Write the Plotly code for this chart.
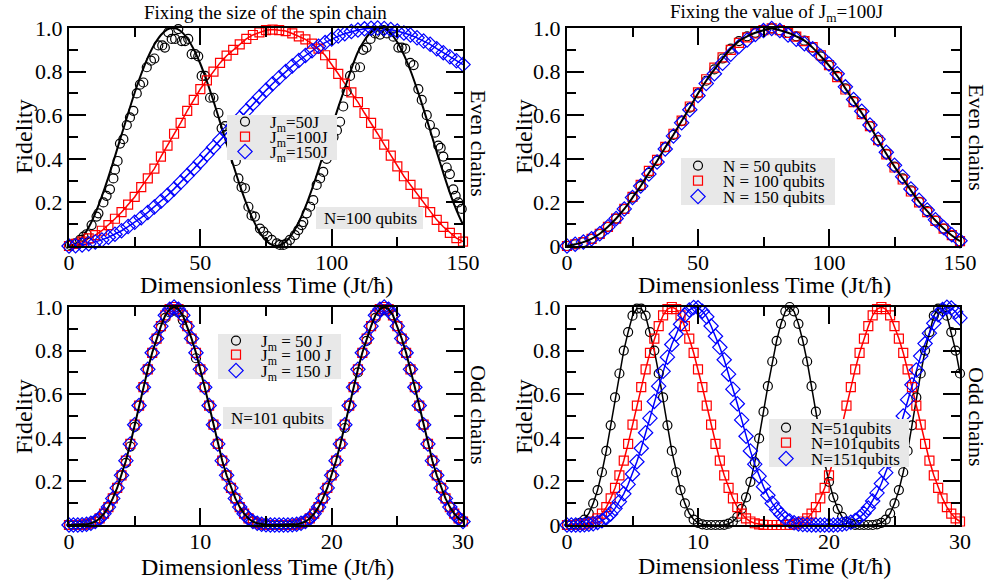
import numpy as np
import plotly.graph_objects as go

W, H = 990, 582
FONT = "Liberation Serif"
RED = "#ff0000"
BLUE = "#0000ff"

# ---------------- even chains, N = 100 qubits (top left) ----------------
t_tl = np.arange(61) * 2.5          # 0 .. 150 in steps of 2.5

# analytic curve for Jm = 50J
tl_line_j50 = [0, 0.01, 0.039, 0.086, 0.15, 0.228, 0.316, 0.411, 0.51, 0.608,
               0.703, 0.789, 0.864, 0.924, 0.968, 0.994, 1.0, 0.986, 0.953, 0.902,
               0.836, 0.755, 0.665, 0.569, 0.47, 0.373, 0.28, 0.196, 0.123, 0.065,
               0.025, 0.004, 0.002, 0.019, 0.056, 0.11, 0.179, 0.261, 0.351, 0.446,
               0.543, 0.636, 0.724, 0.812, 0.89, 0.944, 0.981, 0.998, 0.997, 0.975,
               0.935, 0.877, 0.805, 0.72, 0.628, 0.53, 0.431, 0.335, 0.244, 0.165,
               0.098]

# simulated points for Jm = 50J
tl_j50_t = [0.4, 2.3, 4.2, 5.5, 6.7, 8.6, 10.5, 11.2, 13.1, 14.3,
            15.6, 16.9, 17.5, 18.5, 19.4, 20.7, 22.0, 23.2, 24.5, 25.8,
            27.0, 28.3, 29.6, 31.2, 32.5, 34.0, 35.5, 36.5, 37.8, 39.1,
            40.4, 41.6, 42.9, 44.2, 45.4, 46.7, 48.0, 49.2, 50.5, 51.8,
            53.7, 55.0, 56.9, 58.1, 59.4, 61.3, 62.6, 63.5, 64.5, 65.7,
            67.0, 68.3, 69.5, 70.8, 72.7, 74.0, 75.5, 77.2, 79.1, 80.3,
            81.6, 82.9, 84.1, 86.0, 87.3, 88.6, 89.2, 90.5, 91.8, 93.0,
            94.3, 95.6, 96.8, 98.1, 99.4, 100.7, 102.0, 103.2, 104.4, 105.7,
            107.0, 108.9, 110.8, 112.0, 113.3, 114.8, 116.5, 118.4, 119.7, 121.0,
            123.5, 125.4, 126.7, 128.0, 129.9, 131.2, 133.0, 134.3, 136.2, 137.4,
            139.3, 140.6, 141.5, 142.5, 143.8, 145.0, 146.3, 147.2, 148.2, 149.5]
tl_j50_f = [0.005, 0.012, 0.028, 0.043, 0.054, 0.096, 0.135, 0.15, 0.20, 0.23,
            0.26, 0.31, 0.35, 0.39, 0.47, 0.49, 0.555, 0.59, 0.62, 0.70,
            0.74, 0.75, 0.82, 0.85, 0.86, 0.92, 0.92, 0.91, 0.98, 0.95,
            0.95, 0.995, 0.94, 0.94, 0.95, 0.88, 0.88, 0.87, 0.78, 0.78,
            0.68, 0.68, 0.61, 0.54, 0.55, 0.48, 0.425, 0.39, 0.31, 0.27,
            0.265, 0.18, 0.14, 0.135, 0.08, 0.066, 0.045, 0.028, 0.012, 0.005,
            0.005, 0.012, 0.028, 0.05, 0.073, 0.096, 0.11, 0.15, 0.18, 0.21,
            0.28, 0.31, 0.34, 0.40, 0.45, 0.50, 0.53, 0.57, 0.64, 0.71,
            0.78, 0.82, 0.82, 0.90, 0.91, 0.95, 0.975, 0.97, 0.99, 0.975,
            0.96, 0.91, 0.91, 0.905, 0.84, 0.83, 0.72, 0.67, 0.60, 0.555,
            0.52, 0.46, 0.45, 0.41, 0.36, 0.33, 0.26, 0.23, 0.20, 0.17]

tl_j100 = [0, 0.01, 0.02, 0.035, 0.05, 0.07, 0.096, 0.125, 0.155, 0.19,
           0.225, 0.27, 0.31, 0.355, 0.41, 0.46, 0.515, 0.565, 0.62, 0.67,
           0.72, 0.76, 0.80, 0.84, 0.873, 0.90, 0.925, 0.95, 0.968, 0.98,
           0.99, 0.993, 0.99, 0.986, 0.975, 0.962, 0.948, 0.928, 0.905, 0.875,
           0.835, 0.79, 0.745, 0.705, 0.66, 0.61, 0.565, 0.515, 0.465, 0.415,
           0.365, 0.32, 0.28, 0.24, 0.2, 0.155, 0.12, 0.088, 0.06, 0.036,
           0.02]

tl_j150 = [0, 0.001, 0.005, 0.01, 0.018, 0.028, 0.04, 0.054, 0.07, 0.089,
           0.109, 0.13, 0.154, 0.179, 0.205, 0.233, 0.262, 0.292, 0.323, 0.354,
           0.387, 0.42, 0.453, 0.487, 0.52, 0.554, 0.587, 0.62, 0.652, 0.684,
           0.714, 0.744, 0.772, 0.8, 0.826, 0.851, 0.874, 0.896, 0.916, 0.933,
           0.949, 0.963, 0.974, 0.984, 0.991, 0.996, 0.999, 1.0, 0.998, 0.993,
           0.986, 0.977, 0.968, 0.955, 0.94, 0.925, 0.905, 0.887, 0.868, 0.85,
           0.832]

# ---------------- even chains, Jm = 100J (top right) ----------------
t_tr = np.arange(49) * 3.125        # 0 .. 150

tr_n50 = [0, 0.008, 0.018, 0.033, 0.056, 0.088, 0.126, 0.17, 0.222, 0.275,
          0.335, 0.39, 0.452, 0.51, 0.573, 0.635, 0.70, 0.758, 0.81, 0.86,
          0.905, 0.94, 0.962, 0.978, 0.99, 0.998, 0.99, 0.978, 0.962, 0.942,
          0.91, 0.87, 0.828, 0.78, 0.723, 0.665, 0.61, 0.55, 0.485, 0.423,
          0.364, 0.31, 0.255, 0.203, 0.16, 0.117, 0.08, 0.048, 0.022]
tr_n100 = [0, 0.008, 0.018, 0.033, 0.056, 0.088, 0.126, 0.17, 0.225, 0.28,
           0.345, 0.395, 0.455, 0.515, 0.575, 0.64, 0.705, 0.765, 0.818, 0.865,
           0.9, 0.932, 0.957, 0.975, 0.99, 0.998, 0.99, 0.977, 0.96, 0.94,
           0.912, 0.875, 0.83, 0.775, 0.718, 0.66, 0.605, 0.55, 0.485, 0.42,
           0.36, 0.305, 0.25, 0.2, 0.155, 0.115, 0.08, 0.05, 0.022]
tr_n150 = [0, 0.008, 0.018, 0.033, 0.056, 0.088, 0.126, 0.17, 0.222, 0.275,
           0.33, 0.385, 0.445, 0.505, 0.565, 0.625, 0.69, 0.745, 0.79, 0.838,
           0.88, 0.915, 0.945, 0.97, 0.988, 0.998, 0.988, 0.968, 0.948, 0.928,
           0.905, 0.87, 0.835, 0.79, 0.73, 0.672, 0.618, 0.555, 0.49, 0.43,
           0.37, 0.318, 0.262, 0.21, 0.165, 0.12, 0.085, 0.052, 0.024]

# ---------------- odd chains (bottom row) ----------------
t_odd = np.arange(91) / 3.0         # 0 .. 30 in steps of 1/3

# N = 101 qubits (shared by Jm = 100J / 150J and by the N = 101 series)
odd_n101 = [0, 0, 0, 0.001, 0.003, 0.008, 0.016, 0.03, 0.052, 0.082,
            0.122, 0.17, 0.228, 0.295, 0.372, 0.46, 0.548, 0.632, 0.714, 0.79,
            0.855, 0.912, 0.962, 0.99, 1.0, 0.99, 0.962, 0.912, 0.855, 0.79,
            0.714, 0.632, 0.548, 0.46, 0.372, 0.295, 0.228, 0.17, 0.122, 0.082,
            0.052, 0.03, 0.016, 0.008, 0.003, 0.001, 0, 0, 0, 0,
            0, 0.001, 0.003, 0.008, 0.016, 0.03, 0.052, 0.082, 0.122, 0.17,
            0.228, 0.295, 0.372, 0.46, 0.548, 0.632, 0.714, 0.79, 0.855, 0.912,
            0.962, 0.99, 1.0, 0.99, 0.962, 0.912, 0.855, 0.79, 0.714, 0.632,
            0.548, 0.46, 0.372, 0.295, 0.228, 0.17, 0.122, 0.082, 0.052, 0.03,
            0.016]
bl_j50 = [0, 0, 0, 0.001, 0.003, 0.008, 0.016, 0.03, 0.052, 0.082,
          0.122, 0.17, 0.228, 0.285, 0.36, 0.45, 0.548, 0.632, 0.714, 0.79,
          0.855, 0.905, 0.95, 0.975, 0.985, 0.975, 0.94, 0.912, 0.855, 0.765,
          0.714, 0.632, 0.548, 0.46, 0.372, 0.295, 0.228, 0.17, 0.122, 0.082,
          0.052, 0.03, 0.016, 0.008, 0.003, 0.001, 0, 0, 0, 0,
          0, 0.001, 0.003, 0.008, 0.016, 0.03, 0.052, 0.082, 0.122, 0.17,
          0.228, 0.295, 0.372, 0.445, 0.548, 0.632, 0.7, 0.79, 0.845, 0.912,
          0.95, 0.98, 0.985, 0.99, 0.962, 0.912, 0.855, 0.79, 0.714, 0.632,
          0.548, 0.46, 0.372, 0.295, 0.228, 0.17, 0.122, 0.082, 0.052, 0.03,
          0.016]

br_n51 = [0, 0, 0.003, 0.01, 0.025, 0.053, 0.099, 0.16, 0.242, 0.34,
          0.457, 0.585, 0.695, 0.80, 0.885, 0.96, 0.993, 0.993, 0.96, 0.885,
          0.80, 0.695, 0.585, 0.457, 0.34, 0.242, 0.16, 0.099, 0.053, 0.025,
          0.01, 0.003, 0, 0, 0, 0, 0.001, 0.006, 0.016, 0.037,
          0.074, 0.127, 0.198, 0.288, 0.397, 0.52, 0.637, 0.75, 0.845, 0.923,
          0.98, 1.0, 0.98, 0.923, 0.845, 0.75, 0.637, 0.52, 0.397, 0.288,
          0.198, 0.127, 0.074, 0.037, 0.016, 0.006, 0.001, 0, 0, 0,
          0, 0.003, 0.01, 0.025, 0.053, 0.099, 0.16, 0.242, 0.34, 0.457,
          0.585, 0.695, 0.80, 0.885, 0.96, 0.993, 0.993, 0.96, 0.885, 0.80,
          0.695]
br_n151 = [0, 0, 0, 0, 0.001, 0.003, 0.006, 0.012, 0.02, 0.033,
           0.051, 0.076, 0.107, 0.143, 0.186, 0.234, 0.29, 0.352, 0.423, 0.49,
           0.567, 0.637, 0.705, 0.77, 0.828, 0.876, 0.921, 0.962, 0.986, 0.998,
           0.996, 0.981, 0.955, 0.913, 0.866, 0.815, 0.758, 0.692, 0.623, 0.556,
           0.482, 0.407, 0.34, 0.279, 0.224, 0.176, 0.136, 0.1, 0.071, 0.048,
           0.03, 0.018, 0.01, 0.005, 0.002, 0.001, 0, 0, 0, 0,
           0, 0, 0.001, 0.003, 0.007, 0.013, 0.021, 0.035, 0.053, 0.078,
           0.11, 0.147, 0.19, 0.24, 0.296, 0.36, 0.43, 0.5, 0.575, 0.643,
           0.711, 0.775, 0.832, 0.88, 0.925, 0.965, 0.988, 0.999, 0.995, 0.978,
           0.95]

# ---------------- labels ----------------
even_y_ticks = [0.2, 0.4, 0.6, 0.8, 1.0]
even_x_ticks = [0, 50, 100, 150]
odd_x_ticks = [0, 10, 20, 30]

tl_names = ["J<sub>m</sub>=50J", "J<sub>m</sub>=100J", "J<sub>m</sub>=150J"]
tr_names = ["N = 50 qubits", "N = 100 qubits", "N = 150 qubits"]
bl_names = ["J<sub>m</sub> = 50 J", "J<sub>m</sub> = 100 J", "J<sub>m</sub> = 150 J"]
br_names = ["N=51qubits", "N=101qubits", "N=151qubits"]


def px(x):
    return x / W


def py(y):
    return 1 - y / H


fig = go.Figure()

CIRC = dict(symbol="circle-open", size=9, color="black", line=dict(width=1.2))
SQR = dict(symbol="square-open", size=9, color=RED, line=dict(width=1.2))
DIA = dict(symbol="diamond-open", size=11, color=BLUE, line=dict(width=1.2))


def line(x, y, color, ax, width=1.5, shape="linear"):
    fig.add_trace(go.Scatter(x=x, y=y, mode="lines", showlegend=False,
                             line=dict(color=color, width=width, shape=shape),
                             xaxis=ax[0], yaxis=ax[1], hoverinfo="skip"))


def pts(x, y, marker, name, legend, ax):
    fig.add_trace(go.Scatter(x=x, y=y, mode="markers", marker=marker, name=name,
                             legend=legend, showlegend=True, cliponaxis=False,
                             xaxis=ax[0], yaxis=ax[1]))


TL, TR, BL, BR = ("x", "y"), ("x2", "y2"), ("x3", "y3"), ("x4", "y4")

# top left
line(t_tl, tl_j100, RED, TL)
line(t_tl, tl_j150, BLUE, TL)
line(t_tl, tl_line_j50, "black", TL, width=2, shape="spline")
pts(tl_j50_t, tl_j50_f, CIRC, tl_names[0], "legend", TL)
pts(t_tl, tl_j100, SQR, tl_names[1], "legend2", TL)
pts(t_tl, tl_j150, DIA, tl_names[2], "legend3", TL)

# top right
pts(t_tr, tr_n50, CIRC, tr_names[0], "legend4", TR)
pts(t_tr, tr_n100, SQR, tr_names[1], "legend5", TR)
pts(t_tr, tr_n150, DIA, tr_names[2], "legend6", TR)
line(t_tr, tr_n50, "black", TR, width=2, shape="spline")

# bottom left
pts(t_odd, bl_j50, CIRC, bl_names[0], "legend7", BL)
pts(t_odd, odd_n101, SQR, bl_names[1], "legend8", BL)
pts(t_odd, odd_n101, DIA, bl_names[2], "legend9", BL)
line(t_odd, odd_n101, "black", BL, width=2)

# bottom right
line(t_odd, br_n51, "black", BR)
line(t_odd, odd_n101, RED, BR)
line(t_odd, br_n151, BLUE, BR)
pts(t_odd, br_n51, CIRC, br_names[0], "legend10", BR)
pts(t_odd, odd_n101, SQR, br_names[1], "legend11", BR)
pts(t_odd, br_n151, DIA, br_names[2], "legend12", BR)


def axis(xpix, rng, vals, text, minor_vals, horizontal):
    lo, hi = xpix
    dom = [px(lo), px(hi)] if horizontal else [py(hi), py(lo)]
    ax = dict(domain=dom, range=rng, tickmode="array", tickvals=vals, ticktext=text,
              ticks="inside", ticklen=17, tickwidth=1.5, tickcolor="black",
              showline=True, linewidth=2, linecolor="black", mirror="allticks",
              showgrid=False, zeroline=False, fixedrange=True, automargin=False,
              tickfont=dict(family=FONT, size=22, color="black"),
              minor=dict(ticks="inside", ticklen=9, tickwidth=1.5, tickcolor="black",
                         tickmode="array", tickvals=minor_vals, showgrid=False))
    if horizontal:
        ax["ticklabelstandoff"] = -4
    return ax


ex_text = [str(v) for v in even_x_ticks]
ox_text = [str(v) for v in odd_x_ticks]
ey_text = ["%.1f" % v for v in even_y_ticks]
y_minor = [0.1, 0.3, 0.5, 0.7, 0.9]
ex_minor = [25, 75, 125]
ox_minor = [5, 15, 25]

layout_axes = dict(
    xaxis=axis((69, 463), [0, 150], even_x_ticks, ex_text, ex_minor, True),
    yaxis=axis((28, 246), [0, 1], even_y_ticks, ey_text, y_minor, False),
    xaxis2=axis((567, 960), [0, 150], even_x_ticks, ex_text, ex_minor, True),
    yaxis2=axis((28, 246), [0, 1], [0] + even_y_ticks, ["0"] + ey_text, y_minor, False),
    xaxis3=axis((69, 463), [0, 30], odd_x_ticks, ox_text, ox_minor, True),
    yaxis3=axis((307, 525), [0, 1], even_y_ticks, ey_text, y_minor, False),
    xaxis4=axis((567, 960), [0, 30], odd_x_ticks, ox_text, ox_minor, True),
    yaxis4=axis((307, 525), [0, 1], [0] + even_y_ticks, ["0"] + ey_text, y_minor, False),
)
for k in ("xaxis", "xaxis2", "xaxis3", "xaxis4"):
    layout_axes[k]["anchor"] = "y" + k[5:]
for k in ("yaxis", "yaxis2", "yaxis3", "yaxis4"):
    layout_axes[k]["anchor"] = "x" + k[5:]

# legend entries: (legend id, symbol centre x, row centre y)
legend_pos = [("legend", 245, 122), ("legend2", 245, 137), ("legend3", 245, 152),
              ("legend4", 698, 166), ("legend5", 698, 181), ("legend6", 698, 197),
              ("legend7", 236, 341), ("legend8", 236, 355), ("legend9", 236, 371),
              ("legend10", 786, 428), ("legend11", 786, 443), ("legend12", 786, 459)]
legends = {}
for name, sx, sy in legend_pos:
    legends[name] = dict(x=px(sx - 25), y=py(sy), xanchor="left", yanchor="middle",
                         bgcolor="rgba(0,0,0,0)", borderwidth=0, itemwidth=40,
                         font=dict(family=FONT, size=17, color="black"))

# grey boxes behind legends and chain-size notes
boxes = [(227, 115, 337, 160), (316, 207, 423, 229), (681, 158, 835, 205),
         (218, 334, 341, 379), (223, 407, 332, 429), (769, 419, 909, 467)]
shapes = [dict(type="rect", xref="paper", yref="paper", layer="above",
               x0=px(a), x1=px(c), y0=py(d), y1=py(b),
               fillcolor="#e8e8e8", line=dict(width=0)) for a, b, c, d in boxes]


def note(text, x, y, size, angle=0):
    return dict(text=text, x=px(x), y=py(y), xref="paper", yref="paper",
                showarrow=False, textangle=angle, xanchor="center", yanchor="middle",
                font=dict(family=FONT, size=size, color="black"))


annotations = [
    note("Fixing the size of the spin chain", 265, 12, 19),
    note("Fixing the value of J<sub>m</sub>=100J", 776, 13, 19),
    note("Dimensionless Time (Jt/ħ)", 266, 285, 24),
    note("Dimensionless Time (Jt/ħ)", 764, 285, 24),
    note("Dimensionless Time (Jt/ħ)", 267, 567, 24),
    note("Dimensionless Time (Jt/ħ)", 764, 566, 24),
    note("Fidelity", 24, 137, 24, -90),
    note("Fidelity", 24, 417, 24, -90),
    note("Fidelity", 524, 137, 24, -90),
    note("Fidelity", 524, 417, 24, -90),
    note("Even chains", 479, 143, 22, 90),
    note("Even chains", 977, 137, 22, 90),
    note("Odd chains", 479, 415, 22, 90),
    note("Odd chains", 977, 417, 22, 90),
    note("N=100 qubits", 370, 218, 17),
    note("N=101 qubits", 277, 418, 17),
]

fig.update_layout(
    template="none",
    width=W, height=H, margin=dict(l=0, r=0, t=0, b=0, pad=0),
    paper_bgcolor="white", plot_bgcolor="white",
    font=dict(family=FONT, color="black"),
    shapes=shapes, annotations=annotations,
    **layout_axes, **legends,
)

fig.write_html("out.html")
